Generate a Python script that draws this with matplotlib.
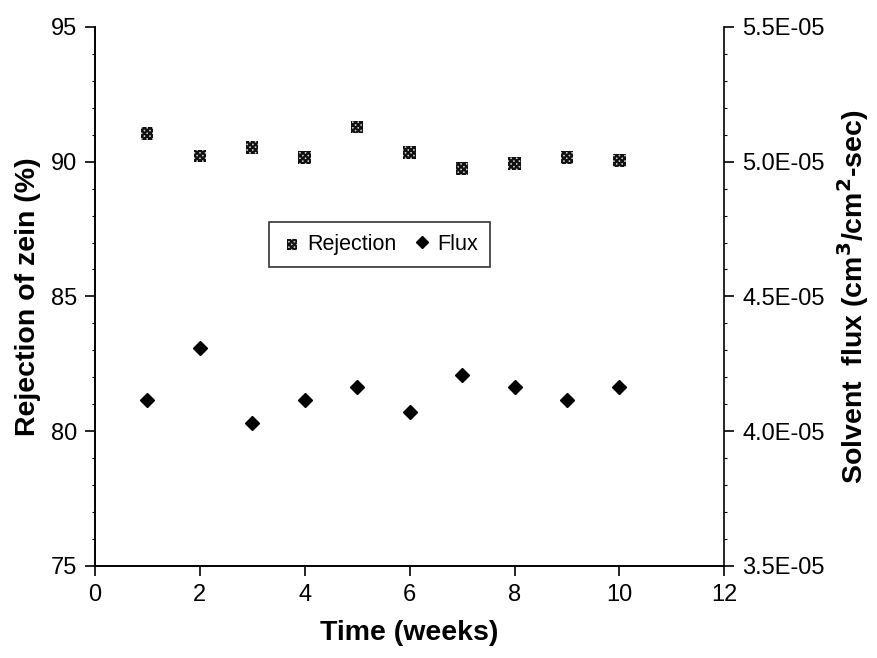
import matplotlib
matplotlib.use('Agg')
import matplotlib.pyplot as plt
from matplotlib.ticker import MultipleLocator, FuncFormatter

plt.rcParams['font.family'] = ['Liberation Sans', 'DejaVu Sans']
plt.rcParams['hatch.linewidth'] = 1.6

# ── data ──
weeks = [1, 2, 3, 4, 5, 6, 7, 8, 9, 10]
rejection = [91.05, 90.22, 90.52, 90.15, 91.28, 90.34, 89.74, 89.93, 90.15, 90.04]
flux = [4.115e-05, 4.31e-05, 4.03e-05, 4.115e-05, 4.164e-05, 4.07e-05,
        4.21e-05, 4.164e-05, 4.115e-05, 4.164e-05]

x_ticks = [0, 2, 4, 6, 8, 10, 12]
left_ticks = [75, 80, 85, 90, 95]
right_ticks = [3.5e-05, 4.0e-05, 4.5e-05, 5.0e-05, 5.5e-05]

fig = plt.figure(figsize=(8.78, 6.58), dpi=100)
ax = fig.add_axes([0.108, 0.140, 0.717, 0.819])
ax2 = ax.twinx()

rej = ax.scatter(weeks, rejection, marker='s', s=80, facecolor='#cfcfcf',
                 edgecolor='#111111', linewidths=0, hatch='xxxxxx',
                 label='Rejection', zorder=3)
fl, = ax2.plot(weeks, flux, linestyle='none', marker='D', ms=7.5,
               color='black', label='Flux', zorder=3)

ax.set_xlim(0, 12)
ax.set_ylim(75, 95)
ax2.set_ylim(3.5e-05, 5.5e-05)
ax.set_xticks(x_ticks)
ax.set_yticks(left_ticks)
ax2.set_yticks(right_ticks)
ax2.yaxis.set_major_formatter(FuncFormatter(lambda v, p: '{:.1E}'.format(v)))
ax.yaxis.set_minor_locator(MultipleLocator(1))
ax2.yaxis.set_minor_locator(MultipleLocator(1e-06))

for a in (ax, ax2):
    a.spines['top'].set_visible(False)
    for s in a.spines.values():
        s.set_linewidth(1.2)
    a.tick_params(which='major', direction='out', length=7, width=1.2,
                  labelsize=17, pad=6)
    a.tick_params(which='minor', direction='out', length=2.5, width=0.8)
ax.spines['right'].set_visible(False)

ax.set_xlabel('Time (weeks)', fontsize=20.5, fontweight='bold', labelpad=10)
ax.set_ylabel('Rejection of zein (%)', fontsize=20.5, fontweight='bold', labelpad=7)
ax2.set_ylabel('Solvent  flux (cm$^\\mathbf{3}$/cm$^\\mathbf{2}$-sec)',
               fontsize=20.5, fontweight='bold', labelpad=7)

leg = ax2.legend(handles=[rej, fl], loc='upper left',
                 bbox_to_anchor=(0.277, 0.638), borderaxespad=0, ncol=2,
                 fontsize=15.5, frameon=True, fancybox=False, edgecolor='black',
                 handletextpad=0.2, columnspacing=0.7, handlelength=1.0,
                 borderpad=0.55, markerscale=0.85)
leg.get_frame().set_linewidth(1.2)

fig.savefig('out.png', dpi=100)
